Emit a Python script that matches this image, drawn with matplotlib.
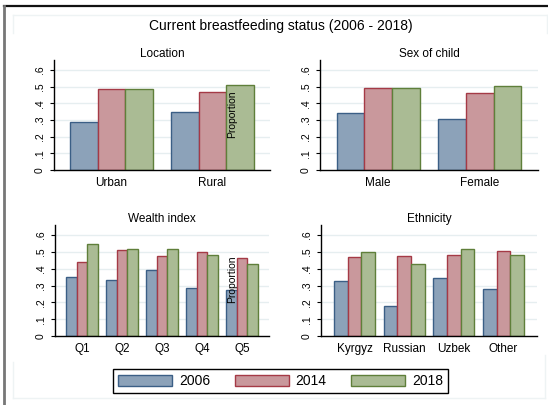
import numpy as np
import matplotlib
matplotlib.use("Agg")
import matplotlib.pyplot as plt
from matplotlib.patches import Patch
from matplotlib.lines import Line2D

plt.rcParams['font.family'] = ['Liberation Sans', 'DejaVu Sans']

years = ['2006', '2014', '2018']

location_cats = ['Urban', 'Rural']
location_2006 = [0.286, 0.346]
location_2014 = [0.484, 0.468]
location_2018 = [0.484, 0.508]

sex_cats = ['Male', 'Female']
sex_2006 = [0.340, 0.304]
sex_2014 = [0.490, 0.460]
sex_2018 = [0.494, 0.506]

wealth_cats = ['Q1', 'Q2', 'Q3', 'Q4', 'Q5']
wealth_2006 = [0.350, 0.334, 0.392, 0.284, 0.274]
wealth_2014 = [0.439, 0.509, 0.473, 0.497, 0.465]
wealth_2018 = [0.547, 0.517, 0.515, 0.481, 0.431]

ethnic_cats = ['Kyrgyz', 'Russian', 'Uzbek', 'Other']
ethnic_2006 = [0.329, 0.179, 0.345, 0.280]
ethnic_2014 = [0.470, 0.474, 0.484, 0.506]
ethnic_2018 = [0.500, 0.429, 0.518, 0.482]

fills = ['#8ca2b9', '#c9989c', '#aabb94']
edges = ['#3b5f86', '#a53a46', '#5f7f3a']
grid_col = '#e6eef0'

W, H = 548, 405
fig = plt.figure(figsize=(W / 100, H / 100), dpi=100)


def px_axes(x0, y0, x1, y1):
    # pixel box (from top-left) -> figure axes
    return fig.add_axes([x0 / W, 1 - y1 / H, (x1 - x0) / W, (y1 - y0) / H])


def px_line(xs, ys, **kw):
    fig.add_artist(Line2D([x / W for x in xs], [1 - y / H for y in ys],
                          transform=fig.transFigure, **kw))


def bar_panel(ax, title, cats, series, width, pad):
    x = np.arange(len(cats))
    for i, vals in enumerate(series):
        ax.bar(x + (i - 1) * width, vals, width, color=fills[i],
               edgecolor=edges[i], linewidth=1.0, zorder=3)
    ax.set_xlim(-1.5 * width - pad, len(cats) - 1 + 1.5 * width + pad)
    ax.set_ylim(0, 0.66)
    ticks = [0, 0.1, 0.2, 0.3, 0.4, 0.5, 0.6]
    ax.set_yticks(ticks)
    ax.set_yticklabels(['0', '.1', '.2', '.3', '.4', '.5', '.6'],
                       rotation=90, va='center', fontsize=7.5)
    for t in ticks[1:]:
        ax.axhline(t, color=grid_col, linewidth=1.0, zorder=1)
    ax.set_xticks(x)
    ax.set_xticklabels(cats, fontsize=8.5)
    ax.tick_params(axis='x', length=0, pad=5)
    ax.tick_params(axis='y', length=3, width=0.8, pad=3.5)
    for s in ['top', 'right']:
        ax.spines[s].set_visible(False)
    for s in ['left', 'bottom']:
        ax.spines[s].set_linewidth(1.0)
        ax.spines[s].set_zorder(4)
    ax.set_title(title, fontsize=8.5, pad=2.5)


ax1 = px_axes(54, 60, 270, 170)
bar_panel(ax1, 'Location', location_cats,
          [location_2006, location_2014, location_2018], 0.272, 0.162)

ax2 = px_axes(320, 60, 538, 170)
bar_panel(ax2, 'Sex of child', sex_cats,
          [sex_2006, sex_2014, sex_2018], 0.272, 0.162)

ax3 = px_axes(55, 225, 269, 336)
bar_panel(ax3, 'Wealth index', wealth_cats,
          [wealth_2006, wealth_2014, wealth_2018], 0.2675, 0.275)

ax4 = px_axes(321, 225, 537, 336)
bar_panel(ax4, 'Ethnicity', ethnic_cats,
          [ethnic_2006, ethnic_2014, ethnic_2018], 0.273, 0.272)

# y titles end up floating over the left-hand panels
fig.text(232 / W, 1 - 114 / H, 'Proportion', rotation=90,
         ha='center', va='center', fontsize=7.5, zorder=10)
fig.text(232 / W, 1 - 279 / H, 'Proportion', rotation=90,
         ha='center', va='center', fontsize=7.5, zorder=10)

fig.suptitle('Current breastfeeding status (2006 - 2018)', x=281 / W,
             y=1 - 26 / H, va='center', fontsize=10)

handles = [Patch(facecolor=fills[i], edgecolor=edges[i], linewidth=1.0)
           for i in range(3)]
fig.legend(handles, years, loc='center', ncol=3,
           bbox_to_anchor=(280.5 / W, 1 - 381 / H), fontsize=10,
           fancybox=False, framealpha=1, edgecolor='black',
           handlelength=3.9, handleheight=0.85, handletextpad=0.5,
           columnspacing=1.75, borderpad=0.35, borderaxespad=0)
fig.legends[0].get_frame().set_linewidth(1.0)

# faint region outlines and the window frame
faint = dict(color='#eef3f4', linewidth=1.0)
px_line([13, 547], [15, 15], **faint)
px_line([13, 13], [15, 33], **faint)
px_line([547, 547], [15, 33], **faint)
px_line([13, 13], [362, 398], **faint)
px_line([13, 545], [398, 398], **faint)
px_line([545, 545], [355, 398], **faint)
px_line([4, 548], [6, 6], color='#111111', linewidth=1.6)
px_line([4, 4], [6, 405], color='#777777', linewidth=2.0)

fig.savefig('out.png', dpi=100)
